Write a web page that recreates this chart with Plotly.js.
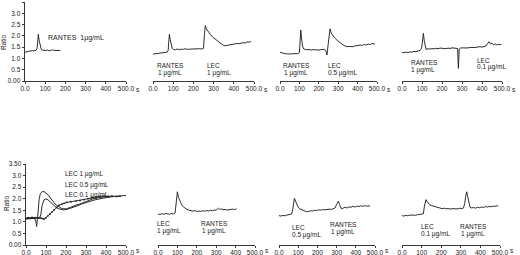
<!DOCTYPE html>
<html><head><meta charset="utf-8">
<script src="https://cdn.plot.ly/plotly-3.0.1.min.js"></script>
<style>html,body{margin:0;padding:0;background:#fff}#c{width:520px;height:255px}</style>
</head><body><div id="c"></div>
<script>
// ---- data (time in s, fluorescence ratio) ----
const xTickVals = [0,100,200,300,400,500];
const xTickText = ['0.0','100','200','300','400','500.0'];
const yTickVals = [0,0.5,1,1.5,2,2.5,3,3.5];
const yTickText = ['0.00','0.5','1.0','1.5','2.0','2.5','3.0','3.50'];

// Panel 1: RANTES 1 µg/mL
const t1 = [0,5,10,15,20,25,30,35,40,45,50,55,60,63,66,70,75,80,85,90,100,110,120,130,135,140,150,160,170,175];
const r1 = [1.27,1.30,1.28,1.33,1.31,1.34,1.32,1.35,1.33,1.34,1.32,1.36,1.45,1.85,2.07,1.80,1.55,1.42,1.37,1.36,1.35,1.37,1.34,1.36,1.39,1.36,1.35,1.37,1.34,1.35];

// Panel 2: RANTES 1 µg/mL then LEC 1 µg/mL
const t2 = [0,10,20,30,40,50,60,70,75,78,81,85,90,95,100,110,120,130,140,150,160,170,180,190,200,210,220,230,240,250,255,259,265,275,285,295,305,315,325,335,345,355,365,375,385,395,405,415,425,435,445,455,465,475,485];
const r2 = [1.19,1.20,1.22,1.21,1.24,1.23,1.27,1.28,1.35,1.80,2.07,1.85,1.60,1.45,1.40,1.38,1.42,1.39,1.41,1.40,1.43,1.40,1.41,1.42,1.41,1.43,1.42,1.43,1.42,1.45,2.10,2.45,2.30,2.15,2.05,1.95,1.88,1.80,1.72,1.66,1.60,1.56,1.58,1.61,1.60,1.63,1.64,1.66,1.65,1.68,1.70,1.68,1.73,1.72,1.75];

// Panel 3: RANTES 1 µg/mL then LEC 0.5 µg/mL
const t3 = [0,10,20,30,40,50,60,70,80,90,100,104,107,111,116,122,130,140,150,160,170,180,190,200,210,220,230,238,242,248,253,258,265,275,285,295,305,315,325,335,345,355,365,375,385,395,405,415,425,435,445,455,465,475,485,490];
const r3 = [1.27,1.24,1.22,1.20,1.21,1.19,1.21,1.20,1.22,1.21,1.25,1.80,2.26,1.90,1.55,1.42,1.40,1.38,1.40,1.37,1.39,1.38,1.40,1.37,1.39,1.38,1.40,1.30,1.15,1.60,2.10,2.31,2.10,1.98,1.88,1.80,1.72,1.66,1.60,1.55,1.52,1.53,1.51,1.52,1.55,1.57,1.56,1.59,1.58,1.62,1.60,1.63,1.62,1.66,1.64,1.65];

// Panel 4: RANTES 1 µg/mL then LEC 0.1 µg/mL
const t4 = [0,10,20,30,40,50,60,70,80,90,98,103,107,111,115,120,130,140,150,160,170,180,190,200,210,220,230,240,250,260,270,278,282,286,292,300,310,320,330,340,350,360,370,380,390,400,410,420,428,435,442,450,458,466,474,482,490,497];
const r4 = [1.27,1.25,1.28,1.26,1.29,1.28,1.31,1.30,1.33,1.35,1.45,1.85,2.11,1.80,1.50,1.40,1.43,1.41,1.44,1.42,1.45,1.43,1.46,1.44,1.45,1.43,1.46,1.44,1.47,1.45,1.46,1.44,0.56,1.42,1.46,1.45,1.47,1.46,1.48,1.47,1.49,1.48,1.50,1.49,1.52,1.50,1.53,1.55,1.66,1.74,1.65,1.68,1.60,1.64,1.60,1.63,1.61,1.62];

// Panel 5: LEC dose series (1, 0.5, 0.1 µg/mL)
const t5a = [0,10,20,30,40,50,58,62,66,72,80,90,100,112,125,135,145,160,178,190,203,220,240,255,270,290,310,330,350,370,390,410,430,450,470,490,500];
const r5a = [1.15,1.12,1.17,1.14,1.18,1.16,1.18,1.60,2.00,2.22,2.30,2.31,2.25,2.16,2.00,1.88,1.77,1.68,1.58,1.56,1.57,1.62,1.70,1.74,1.77,1.85,1.92,1.98,2.03,2.06,2.08,2.07,2.09,2.08,2.10,2.12,2.14];
const t5b = [0,10,20,30,40,48,53,57,62,68,74,80,90,100,110,122,137,150,165,187,205,220,237,260,280,300,320,340,360,380,400,420];
const r5b = [1.12,1.15,1.13,1.16,1.14,1.10,0.80,1.10,1.15,1.18,1.30,1.70,1.95,1.99,1.95,1.85,1.72,1.63,1.56,1.52,1.54,1.58,1.63,1.70,1.78,1.84,1.90,1.94,1.98,2.02,2.05,2.08];
const t5c = [0,10,20,30,40,50,60,70,80,90,100,110,120,130,140,153,165,180,190,203,225,250,270,290,310,330,350,370,390,410,430,453,470];
const r5c = [1.15,1.18,1.16,1.19,1.17,1.18,1.16,1.17,1.15,1.12,1.18,1.26,1.34,1.43,1.52,1.63,1.71,1.77,1.80,1.84,1.87,1.90,1.92,1.96,2.00,2.04,2.08,2.10,2.11,2.10,2.12,2.10,2.11];

// Panel 6: LEC 1 µg/mL then RANTES 1 µg/mL
const t6 = [0,10,20,30,40,50,60,70,80,88,94,100,106,112,117,125,135,144,155,170,180,190,200,210,220,230,240,250,260,270,280,290,300,306,311,318,326,335,345,355,365,375,385,395,405];
const r6 = [1.34,1.32,1.35,1.33,1.36,1.34,1.33,1.36,1.34,1.38,1.80,2.30,2.05,1.90,1.84,1.70,1.62,1.56,1.52,1.48,1.46,1.49,1.45,1.47,1.45,1.48,1.46,1.49,1.47,1.50,1.48,1.51,1.50,1.56,1.59,1.54,1.56,1.52,1.54,1.51,1.53,1.52,1.55,1.53,1.56];

// Panel 7: LEC 0.5 µg/mL then RANTES 1 µg/mL
const t7 = [0,10,20,30,40,50,60,66,72,76,80,86,93,100,110,126,143,155,165,175,185,195,205,215,225,235,245,255,265,275,285,292,300,305,309,315,320,326,335,345,355,365,375,385,395,405,415,425,435,445,455,465,474];
const r7 = [1.27,1.25,1.28,1.26,1.29,1.30,1.32,1.34,1.55,1.85,2.02,1.90,1.75,1.63,1.55,1.48,1.44,1.45,1.48,1.47,1.50,1.49,1.52,1.50,1.53,1.52,1.54,1.53,1.55,1.54,1.56,1.60,1.75,1.86,1.89,1.75,1.62,1.56,1.60,1.63,1.60,1.65,1.63,1.67,1.64,1.68,1.66,1.69,1.67,1.70,1.68,1.70,1.69];

// Panel 8: LEC 0.1 µg/mL then RANTES 1 µg/mL
const t8 = [0,10,20,30,40,50,60,70,80,90,100,109,114,118,122,128,135,143,152,162,172,182,194,205,215,225,235,245,255,265,275,285,295,305,314,320,325,330,335,340,347,355,365,375,385,395,405,415,425,435,445,455,465,475,485,491];
const r8 = [1.27,1.25,1.28,1.26,1.29,1.28,1.30,1.29,1.31,1.32,1.33,1.35,1.65,1.85,1.96,1.88,1.80,1.73,1.70,1.68,1.65,1.62,1.60,1.57,1.59,1.56,1.58,1.55,1.57,1.56,1.58,1.56,1.59,1.57,1.60,1.80,2.10,2.30,2.10,1.85,1.63,1.60,1.62,1.59,1.63,1.61,1.64,1.62,1.66,1.64,1.67,1.65,1.68,1.67,1.69,1.70];

// ---- layout ----
const W = 520, H = 255;
const ink = '#222';
const fontFam = '"Liberation Sans", Arial, sans-serif';
// panel plot boxes in pixels: [left, right, top, bottom]
const boxes = [
  [25,126,2,81],[153,254,2,81],[280,377,2,81],[402,502,2,81],
  [26,126,164,245],[158,255,164,245],[279,375,164,245],[402,500,164,245]
];
const series = [
  [[t1,r1]],[[t2,r2]],[[t3,r3]],[[t4,r4]],
  [[t5a,r5a],[t5b,r5b],[t5c,r5c]],[[t6,r6]],[[t7,r7]],[[t8,r8]]
];
const data = [];
const layout = {
  width: W, height: H, margin:{l:0,r:0,t:0,b:0},
  paper_bgcolor:'#fff', plot_bgcolor:'rgba(0,0,0,0)',
  showlegend:false, font:{family:fontFam, size:6.5, color:ink},
  annotations:[]
};
boxes.forEach((b,i)=>{
  const n = i+1, sfx = n===1?'':String(n);
  const xa = 'x'+sfx, ya = 'y'+sfx;
  layout['xaxis'+sfx] = {
    domain:[b[0]/W, b[1]/W], range:[0,500], anchor:ya,
    showline:true, linecolor:ink, linewidth:0.9, ticks:'outside', ticklen:2.5, tickwidth:0.9, tickcolor:ink,
    tickvals:xTickVals, ticktext:xTickText, tickfont:{size:6.5, color:ink}, ticklabelstandoff:-1,
    showgrid:false, zeroline:false, fixedrange:true
  };
  const hasY = (i===0 || i===4);
  layout['yaxis'+sfx] = {
    domain:[(H-b[3])/H, (H-b[2])/H], range:[0,3.5], anchor:xa,
    visible: hasY, showline:true, linecolor:ink, linewidth:0.9, ticks:'outside', ticklen:2.5, tickwidth:0.9, tickcolor:ink,
    tickvals:yTickVals, ticktext:yTickText, tickfont:{size:6.5, color:ink},
    showgrid:false, zeroline:false, fixedrange:true
  };
  series[i].forEach((s,k)=>{
    const tr = {x:s[0], y:s[1], xaxis:xa, yaxis:ya, type:'scatter', mode:'lines',
      line:{color:ink, width:0.95}, hoverinfo:'skip', cliponaxis:false};
    if (i===4 && k===2){ tr.mode='lines+markers'; tr.marker={size:1.8, color:ink, symbol:'circle'}; }
    data.push(tr);
  });
  // trailing unit "s"
  const bottomRow = i>=4;
  layout.annotations.push({xref:xa, yref:'paper', x:500, xshift:12,
    y: bottomRow ? 0 : (H-b[3]-8)/H, yanchor: bottomRow ? 'bottom' : 'middle',
    text:'s', showarrow:false, font:{size:6.5,color:ink}, xanchor:'center', borderpad:0});
});
function lbl(px, py, text, anchor, size){
  layout.annotations.push({xref:'paper', yref:'paper', x:px/W, y:(H-py)/H, text:text,
    showarrow:false, xanchor:anchor||'left', yanchor:'middle',
    font:{size:size||6.5,color:ink}});
}
function lbl2(px, py, a, b, anchor){
  lbl(px, py, a, anchor);
  lbl(px, py+7.5, b, anchor);
}
// Ratio titles
layout.annotations.push({xref:'paper', yref:'paper', x:4/W, y:(H-42)/H, text:'Ratio', textangle:-90,
  showarrow:false, font:{size:6.5,color:ink}, xanchor:'center', yanchor:'middle'});
layout.annotations.push({xref:'paper', yref:'paper', x:6/W, y:(H-203)/H, text:'Ratio', textangle:-90,
  showarrow:false, font:{size:6.5,color:ink}, xanchor:'center', yanchor:'middle'});
// panel labels
lbl(46,38,'RANTES&nbsp;&nbsp;1µg/mL','left',7);
lbl2(170,65,'RANTES','1 µg/mL','center');
lbl2(205,65,'LEC','1 µg/mL');
lbl2(296,65,'RANTES','1 µg/mL','center');
lbl2(326,65,'LEC','0.5 µg/mL');
lbl2(409,62,'RANTES','1 µg/mL');
lbl2(475,60,'LEC','0.1 µg/mL');
lbl(63,174,'LEC 1 µg/mL');
lbl(63,185,'LEC 0.5 µg/mL');
lbl(63,195,'LEC 0.1 µg/mL');
lbl2(155,223,'LEC','1 µg/mL');
lbl2(214,223,'RANTES','1 µg/mL','center');
lbl2(290,227,'LEC','0.5 µg/mL');
lbl2(343,224,'RANTES','1 µg/mL','center');
lbl2(419,226,'LEC','0.1 µg/mL');
lbl2(473,226,'RANTES','1 µg/mL','center');

Plotly.newPlot('c', data, layout, {staticPlot:true, displayModeBar:false});
</script></body></html>
